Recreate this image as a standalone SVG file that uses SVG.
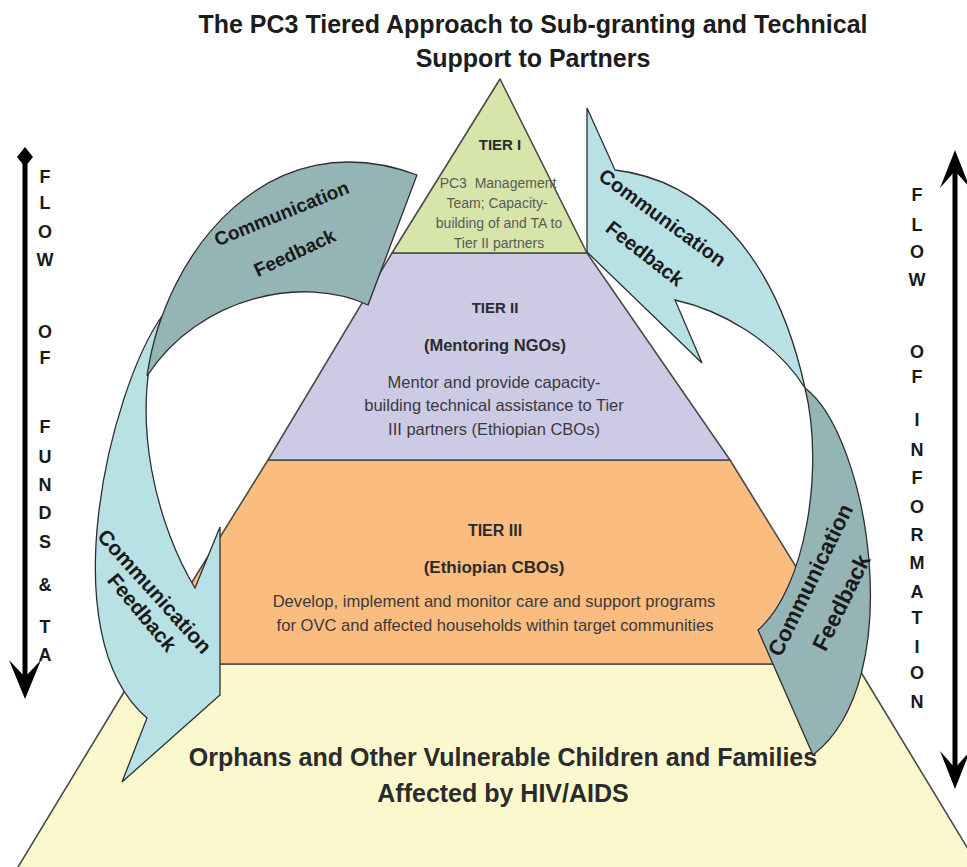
<svg xmlns="http://www.w3.org/2000/svg" width="967" height="867" viewBox="0 0 967 867">
<style>
text { font-family: "Liberation Sans", Arial, sans-serif; }
.title { font-size: 25px; font-weight: bold; fill: #1c1c1c; text-anchor: middle; }
.tier { stroke: #4a4a4a; stroke-width: 1.6; stroke-linejoin: round; }
.lbl { font-weight: bold; fill: #2b2b2b; text-anchor: middle; }
.body { fill: #3a3a3a; text-anchor: middle; }
.body1 { fill: #5a5a5a; text-anchor: middle; font-size: 14px; white-space: pre; }
.arw { stroke: #2e2e2e; stroke-width: 1.3; stroke-linejoin: miter; }
.lb { fill: #b8e1e5; }
.tl { fill: #94b4b5; }
.at { font-weight: bold; fill: #1a1a1a; text-anchor: middle; }
.side { font-size: 18px; font-weight: bold; fill: #1a1a1a; text-anchor: middle; }
.axis { stroke: #000; stroke-width: 5; fill: none; }
</style>
<rect x="0" y="0" width="967" height="867" fill="#ffffff"/>

<g id="title">
  <text class="title" x="533" y="33">The PC3 Tiered Approach to Sub-granting and Technical</text>
  <text class="title" x="533" y="67">Support to Partners</text>
</g>

<g id="base-ovc">
  <polygon class="tier" points="141,664 856,664 982,872 15,872" fill="#fbf8cd"/>
  <text class="lbl" x="503" y="766" style="font-size:25px" fill="#1a1a1a">Orphans and Other Vulnerable Children and Families</text>
  <text class="lbl" x="503" y="802" style="font-size:25px" fill="#1a1a1a">Affected by HIV/AIDS</text>
</g>

<g id="tier3">
  <polygon class="tier" points="268,460 730,460 856,664 141,664" fill="#fabd7f"/>
  <text class="lbl" x="495" y="536" style="font-size:16px">TIER III</text>
  <text class="lbl" x="494" y="573" style="font-size:17px">(Ethiopian CBOs)</text>
  <text class="body" x="494" y="607" style="font-size:16.6px">Develop, implement and monitor care and support programs</text>
  <text class="body" x="495" y="631" style="font-size:16.6px">for OVC and affected households within target communities</text>
</g>

<g id="tier2">
  <polygon class="tier" points="392,253 587,253 730,460 268,460" fill="#cdcae6"/>
  <text class="lbl" x="495" y="313" style="font-size:15px">TIER II</text>
  <text class="lbl" x="495" y="351" style="font-size:16.5px">(Mentoring NGOs)</text>
  <text class="body" x="494" y="388" style="font-size:16.5px">Mentor and provide capacity-</text>
  <text class="body" x="494" y="411" style="font-size:16.5px">building technical assistance to Tier</text>
  <text class="body" x="494" y="435" style="font-size:16.5px">III partners (Ethiopian CBOs)</text>
</g>

<g id="tier1">
  <polygon class="tier" points="500,79 587,253 392,253" fill="#d7e4aa"/>
  <text class="lbl" x="500" y="150" style="font-size:15px">TIER I</text>
  <text class="body1" x="498" y="188">PC3  Management</text>
  <text class="body1" x="497" y="208">Team; Capacity-</text>
  <text class="body1" x="499" y="228">building of and TA to</text>
  <text class="body1" x="499" y="248">Tier II partners</text>
</g>

<g id="connectors">
  <g id="feedback-left">
    <path class="arw lb" d="M162,316 C110,390 50,635 147,718 L122,782 L220,695 L220,527 L195,588 C160,530 125,420 162,316 Z"/>
    <text class="at" style="font-size:21px" transform="translate(149.3,596.2) rotate(48)">Communication</text>
    <text class="at" style="font-size:20.5px" transform="translate(136.6,617) rotate(50)">Feedback</text>
  </g>
  <g id="feedback-top-left">
    <path class="arw tl" d="M147,376 C165,250 270,120 417,175 L368,305 C305,275 200,295 147,376 Z"/>
    <text class="at" style="font-size:19px" transform="translate(284,219.5) rotate(-22)">Communication</text>
    <text class="at" style="font-size:19px" transform="translate(297.4,258.7) rotate(-25)">Feedback</text>
  </g>
  <g id="feedback-top-right">
    <path class="arw lb" d="M805,388 C775,250 700,180 615,170 L587,108 L587,252 L702,363 L675,300 C720,310 775,340 805,388 Z"/>
    <text class="at" style="font-size:20px" transform="translate(658.4,223.2) rotate(36)">Communication</text>
    <text class="at" style="font-size:20px" transform="translate(640.7,259) rotate(38)">Feedback</text>
  </g>
  <g id="feedback-right">
    <path class="arw tl" d="M805,388 C868,435 910,680 813,755 L758,630 C805,590 825,470 805,388 Z"/>
    <text class="at" style="font-size:22px" transform="translate(817.2,583.3) rotate(-64)">Communication</text>
    <text class="at" style="font-size:22.5px" transform="translate(848.2,605.8) rotate(-64)">Feedback</text>
  </g>
</g>

<g id="flow-funds">
  <line class="axis" x1="25" y1="157" x2="25" y2="680"/>
  <path d="M25,147 L33,157 L25,167 L17,157 Z" fill="#000"/>
  <path d="M25,699 L41,660 L25,677 L9,660 Z" fill="#000"/>
  <text class="side" x="45" y="183">F</text>
  <text class="side" x="45" y="209">L</text>
  <text class="side" x="45" y="238">O</text>
  <text class="side" x="45" y="266">W</text>
  <text class="side" x="45" y="338">O</text>
  <text class="side" x="45" y="364">F</text>
  <text class="side" x="45" y="433">F</text>
  <text class="side" x="45" y="463">U</text>
  <text class="side" x="45" y="491">N</text>
  <text class="side" x="45" y="519">D</text>
  <text class="side" x="45" y="548">S</text>
  <text class="side" x="45" y="591">&amp;</text>
  <text class="side" x="45" y="633">T</text>
  <text class="side" x="45" y="661">A</text>
</g>

<g id="flow-information">
  <line class="axis" x1="955" y1="166" x2="955" y2="772"/>
  <path d="M955,150 L940,188 L955,171 L970,188 Z" fill="#000"/>
  <path d="M955,789 L940,751 L955,768 L970,751 Z" fill="#000"/>
  <text class="side" x="917" y="201">F</text>
  <text class="side" x="917" y="231">L</text>
  <text class="side" x="917" y="258">O</text>
  <text class="side" x="917" y="286">W</text>
  <text class="side" x="917" y="358">O</text>
  <text class="side" x="917" y="383">F</text>
  <text class="side" x="917" y="426">I</text>
  <text class="side" x="917" y="456">N</text>
  <text class="side" x="917" y="484">F</text>
  <text class="side" x="917" y="513">O</text>
  <text class="side" x="917" y="541">R</text>
  <text class="side" x="917" y="569">M</text>
  <text class="side" x="917" y="598">A</text>
  <text class="side" x="917" y="624">T</text>
  <text class="side" x="917" y="653">I</text>
  <text class="side" x="917" y="679">O</text>
  <text class="side" x="917" y="708">N</text>
</g>
</svg>
